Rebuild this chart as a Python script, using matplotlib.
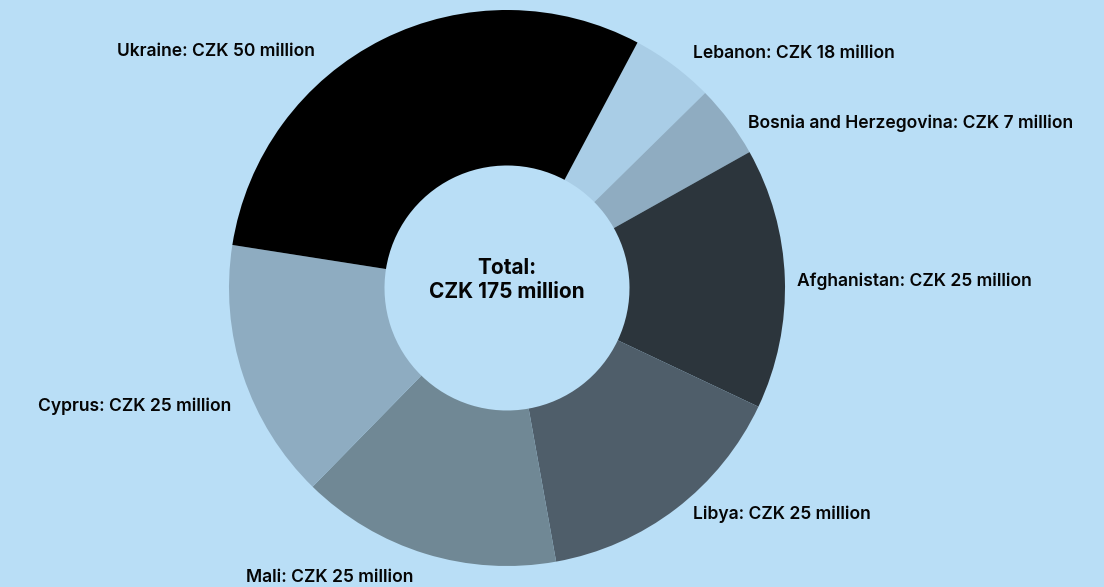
import matplotlib.pyplot as plt

# data
countries = ["Lebanon", "Bosnia and Herzegovina", "Afghanistan", "Libya",
             "Mali", "Cyprus", "Ukraine"]
label_amounts = [18, 7, 25, 25, 25, 25, 50]   # CZK million, as written in the labels
slice_values = [8, 7, 25, 25, 25, 25, 50]     # slice sizes as drawn in the picture
total = 175

colors = ["#a9cde6", "#8facc1", "#2c353c", "#4f5e6a", "#708895", "#8eacc1", "#000000"]
bg = "#b9def6"

W, H = 1104, 587
fig = plt.figure(figsize=(W / 100, H / 100), dpi=100)
fig.patch.set_facecolor(bg)
ax = fig.add_axes([0, 0, 1, 1])
ax.set_facecolor(bg)

cx, cy, r = 507, H - 288, 278
ax.pie(slice_values, colors=colors, center=(cx, cy), radius=r,
       startangle=62, counterclock=False,
       wedgeprops=dict(width=r - 122.5, linewidth=0))

ax.set_xlim(0, W)
ax.set_ylim(0, H)
ax.set_aspect("equal")
ax.axis("off")

font = dict(family=["Inter", "DejaVu Sans"], fontsize=12.6, fontweight="semibold", color="#050505")

# label anchors in pixel coords (x, y from top, horizontal alignment)
label_pos = [(693, 54, "left"), (748, 123, "left"), (797, 281, "left"),
             (693, 514, "left"), (246, 578, "left"), (231, 406, "right"),
             (315, 51, "right")]
for name, amt, (x, y, ha) in zip(countries, label_amounts, label_pos):
    ax.text(x, H - y, f"{name}: CZK {amt} million", ha=ha, va="center", **font)

ax.text(cx, H - 280, f"Total:\nCZK {total} million", ha="center", va="center",
        linespacing=1.25, **{**font, "fontweight": "bold", "fontsize": 15})

fig.savefig("out.png", dpi=100, facecolor=bg)
